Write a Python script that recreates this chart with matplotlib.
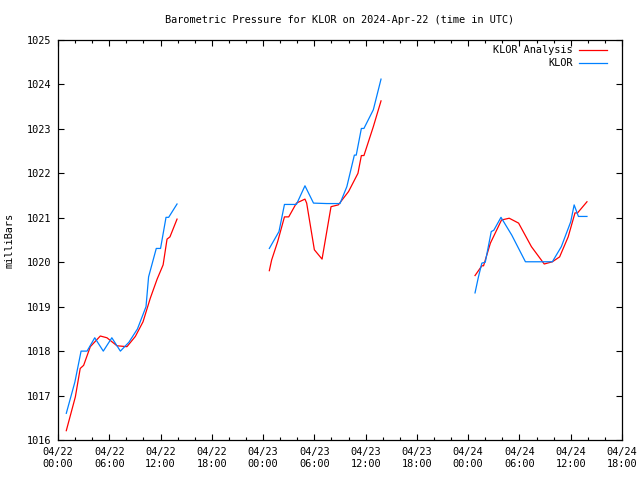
import matplotlib
matplotlib.use('Agg')

import numpy as np
import matplotlib.pyplot as plt
import matplotlib.dates as mdates
from datetime import datetime, timedelta

# hours since 2024-04-22 00:00 UTC, NaN = gap in the record
OBS_HOURS = [0.97, 1.97, 2.7, 3.4, 4.3, 5.3, 6.3, 7.3, 8.3, 9.3, 10.3, 10.6, 11.5, 12.0, 12.64, 12.95, 13.93,
             np.nan,
             24.73, 25.86, 26.5, 27.9, 28.9, 29.9, 31.44, 33.0, 33.8, 34.68, 34.9, 35.5, 35.8, 36.9, 37.8,
             np.nan,
             48.8, 49.2, 49.6, 50.0, 50.7, 51.0, 51.84, 53.1, 54.7, 57.85, 58.9, 60.0, 60.4, 60.9, 61.9]
OBS_MB = [1016.6, 1017.3, 1018.0, 1018.0, 1018.3, 1018.0, 1018.3, 1018.0, 1018.2, 1018.5, 1019.0, 1019.67,
          1020.31, 1020.31, 1021.01, 1021.01, 1021.31,
          np.nan,
          1020.31, 1020.69, 1021.3, 1021.3, 1021.72, 1021.33, 1021.32, 1021.32, 1021.70, 1022.41, 1022.41,
          1023.01, 1023.01, 1023.43, 1024.12,
          np.nan,
          1019.31, 1019.67, 1019.98, 1020.0, 1020.69, 1020.72, 1021.01, 1020.61, 1020.01, 1020.01, 1020.35,
          1020.91, 1021.29, 1021.03, 1021.03]

ANA_HOURS = [0.97, 2.03, 2.6, 3.0, 3.78, 4.95, 5.73, 6.9, 8.07, 9.05, 9.95, 10.8, 11.6, 12.3, 12.76, 13.1, 13.93,
             np.nan,
             24.73, 25.0, 25.7, 26.5, 27.0, 27.9, 28.9, 29.1, 30.0, 30.9, 31.95, 32.8, 34.0, 35.1, 35.5, 35.8,
             36.9, 37.8,
             np.nan,
             48.8, 49.6, 49.8, 50.6, 51.9, 52.8, 53.9, 55.4, 56.9, 57.85, 58.7, 59.7, 60.5, 60.8, 61.9]
ANA_MB = [1016.21, 1016.97, 1017.61, 1017.68, 1018.1, 1018.34, 1018.3, 1018.12, 1018.1, 1018.33, 1018.66,
          1019.19, 1019.62, 1019.94, 1020.52, 1020.57, 1020.97,
          np.nan,
          1019.81, 1020.05, 1020.46, 1021.02, 1021.02, 1021.33, 1021.42, 1021.33, 1020.28, 1020.07, 1021.25,
          1021.29, 1021.59, 1022.0, 1022.40, 1022.40, 1023.05, 1023.63,
          np.nan,
          1019.70, 1019.92, 1019.92, 1020.43, 1020.95, 1020.99, 1020.88, 1020.35, 1019.96, 1020.01, 1020.12,
          1020.57, 1021.11, 1021.11, 1021.36]

T0 = datetime(2024, 4, 22)


def to_num(hours):
    # hours offset -> matplotlib date numbers, keeping NaN gaps
    base = mdates.date2num(T0)
    return base + np.asarray(hours, dtype=float) / 24.0


def main():
    plt.rcParams['font.family'] = ['DejaVu Sans Mono']
    plt.rcParams['font.size'] = 7.4

    fig = plt.figure(figsize=(6.4, 4.8), dpi=100)
    ax = fig.add_axes([58 / 640, 40 / 480, 564 / 640, 400 / 480])

    ax.plot(to_num(ANA_HOURS), ANA_MB, color='#ff0000', lw=0.9, label='KLOR Analysis')
    ax.plot(to_num(OBS_HOURS), OBS_MB, color='#0080ff', lw=0.9, label='KLOR')

    ax.set_xlim(mdates.date2num(T0), mdates.date2num(T0 + timedelta(hours=66)))
    ax.set_ylim(1016, 1025)
    ax.set_yticks(range(1016, 1026))

    ax.xaxis.set_major_locator(mdates.HourLocator(byhour=[0, 6, 12, 18]))
    ax.xaxis.set_minor_locator(mdates.HourLocator(byhour=range(0, 24, 2)))
    ax.xaxis.set_major_formatter(mdates.DateFormatter('%m/%d\n%H:%M'))

    ax.tick_params(which='major', direction='in', length=4, width=0.8,
                   top=True, right=True, pad=5)
    ax.tick_params(which='minor', direction='in', length=2.5, width=0.8, top=True)
    for s in ax.spines.values():
        s.set_linewidth(0.9)

    ax.set_ylabel('milliBars', labelpad=9)
    fig.text(340 / 640, 0.958, 'Barometric Pressure for KLOR on 2024-Apr-22 (time in UTC)',
             ha='center', va='center')

    ax.legend(loc='upper right', bbox_to_anchor=(0.982, 1.0), frameon=False, markerfirst=False,
              handlelength=2.7, handletextpad=0.6, borderaxespad=0.1, labelspacing=0.3)

    fig.savefig('out.png', dpi=100, facecolor='white')
    plt.close(fig)


if __name__ == '__main__':
    main()
